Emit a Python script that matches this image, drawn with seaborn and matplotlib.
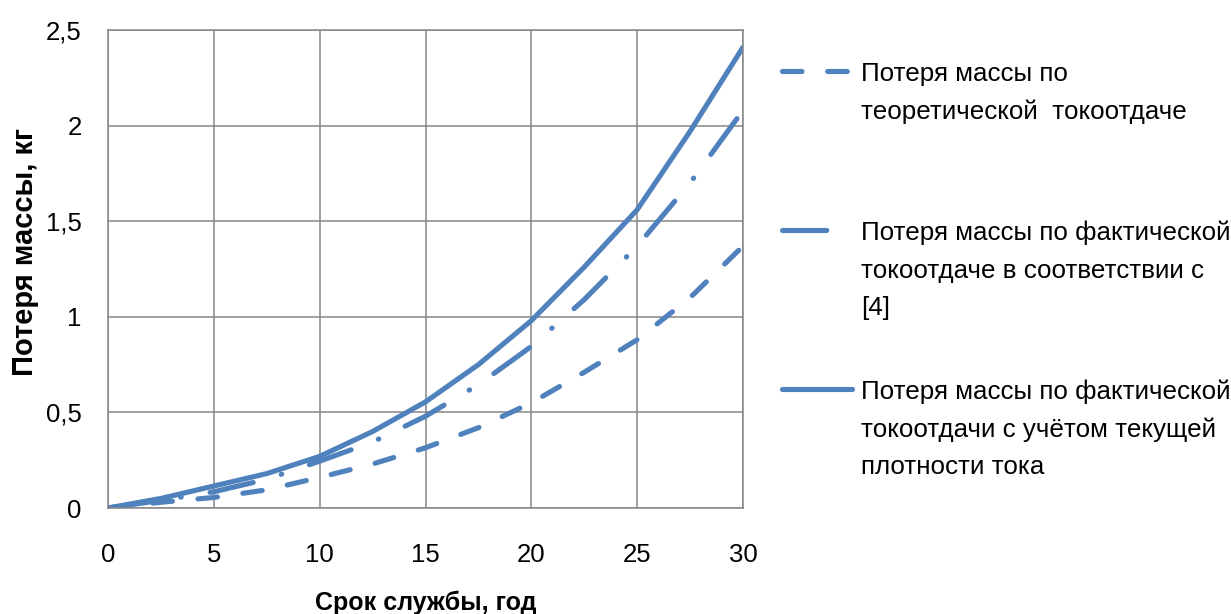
import numpy as np
import pandas as pd
import matplotlib
matplotlib.use("Agg")
import matplotlib.pyplot as plt
import seaborn as sns

# Service life, years
years = [0, 2.5, 5, 7.5, 10, 12.5, 15, 17.5, 20, 22.5, 25, 27.5, 30]

# Mass loss, kg
loss_theoretical = [0, 0.03, 0.055, 0.095, 0.16, 0.23, 0.315, 0.42, 0.55, 0.71, 0.88, 1.10, 1.37]
loss_actual_ref4 = [0, 0.04, 0.085, 0.15, 0.245, 0.345, 0.48, 0.645, 0.845, 1.09, 1.37, 1.70, 2.08]
loss_actual_density = [0, 0.05, 0.115, 0.18, 0.27, 0.40, 0.555, 0.75, 0.98, 1.26, 1.56, 1.97, 2.41]

series_labels = [
    "Потеря массы по\nтеоретической  токоотдаче\n",
    "Потеря массы по фактической\nтокоотдаче в соответствии с\n[4]",
    "Потеря массы по фактической\nтокоотдачи с учётом текущей\nплотности тока",
]

x_ticks = [0, 5, 10, 15, 20, 25, 30]
y_ticks = [0, 0.5, 1, 1.5, 2, 2.5]
y_tick_labels = ["0", "0,5", "1", "1,5", "2", "2,5"]
x_label = "Срок службы, год"
y_label = "Потеря массы, кг"

sns.set_theme(style="white")
plt.rcParams["font.family"] = ["Liberation Sans", "DejaVu Sans"]

LINE_COLOR = "#4F81BD"
GRID_COLOR = "#868686"
LW = 3.7
line_styles = [(0, (3.8, 5.0)), (0, (8.6, 5.7, 0.1, 5.7)), "-"]

df = pd.DataFrame({
    "year": years * 3,
    "loss": loss_theoretical + loss_actual_ref4 + loss_actual_density,
    "series": np.repeat(series_labels, len(years)),
})

fig = plt.figure(figsize=(12.31, 6.14), dpi=100)
ax = fig.add_axes([108 / 1231, 106 / 614, 635 / 1231, 478 / 614])

for label, ls in zip(series_labels, line_styles):
    sub = df[df["series"] == label]
    sns.lineplot(data=sub, x="year", y="loss", ax=ax, color=LINE_COLOR,
                 linewidth=LW, linestyle=ls, dash_capstyle="round",
                 solid_capstyle="round", errorbar=None, legend=False)

ax.set_xlim(0, 30)
ax.set_ylim(0, 2.5)
ax.set_xticks(x_ticks)
ax.set_xticklabels([str(t) for t in x_ticks])
ax.set_yticks(y_ticks)
ax.set_yticklabels(y_tick_labels)
ax.grid(True, color=GRID_COLOR, linewidth=1.1)
ax.set_axisbelow(True)
for sp in ax.spines.values():
    sp.set_color(GRID_COLOR)
    sp.set_linewidth(1.1)

ax.tick_params(axis="both", direction="out", length=6, width=1.1,
               color=GRID_COLOR, labelsize=18.5, labelcolor="black")
ax.tick_params(axis="x", pad=19)
ax.tick_params(axis="y", pad=13)

ax.set_xlabel(x_label, fontsize=18, fontweight="bold", color="black")
ax.set_ylabel(y_label, fontsize=21, fontweight="bold", color="black")
ax.xaxis.set_label_coords(0.5, -0.172)
ax.yaxis.set_label_coords(-0.108, 0.535)

leg = ax.legend(ax.get_lines(), series_labels, loc="upper left",
                bbox_to_anchor=(781.5 / 1231, 1 - 62 / 614),
                bbox_transform=fig.transFigure, frameon=False, borderpad=0,
                borderaxespad=0, handlelength=2.73, handletextpad=0.35,
                labelspacing=2.29,
                prop={"family": ["Liberation Sans", "DejaVu Sans"], "size": 18.7})
for t in leg.get_texts():
    t.set_linespacing(1.7)
    t.set_color("black")

# Put each legend swatch level with the first line of its label
fig.canvas.draw()
renderer = fig.canvas.get_renderer()
for txt, hl in zip(leg.get_texts(), leg.get_lines()):
    n = txt.get_text().count("\n") + 1
    if n < 2:
        continue
    bb = txt.get_window_extent(renderer)
    _, lp_h, _ = renderer.get_text_width_height_descent(
        "lp", txt.get_fontproperties(), ismath=False)
    step = (bb.height - lp_h) / (n - 1)
    shift_px = 0.5 * (n - 1) * step + 3
    hl.set_ydata(np.asarray(hl.get_ydata(), dtype=float) + shift_px * 72.0 / fig.dpi)

fig.savefig("out.png", dpi=100)
